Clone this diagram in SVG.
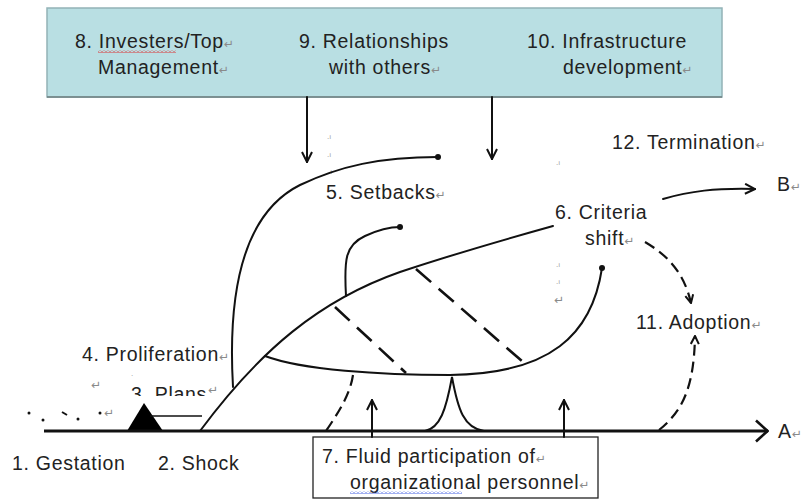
<svg xmlns="http://www.w3.org/2000/svg" width="803" height="499" viewBox="0 0 803 499">
  <style>
    .lbl { font-family: "Liberation Sans", Arial, sans-serif; font-size: 19.5px; fill: #222; letter-spacing: 0.7px; }
    .pm { font-family: "DejaVu Sans", sans-serif; font-size: 12px; fill: #8a8a8a; letter-spacing: 0; }
    .tiny { font-family: "DejaVu Sans", sans-serif; font-size: 7px; fill: #9a9a9a; }
    .ln { fill: none; stroke: #111; stroke-width: 2; stroke-linecap: round; }
    .dash { fill: none; stroke: #111; stroke-width: 2.6; stroke-dasharray: 20 10; }
    .dash2 { fill: none; stroke: #111; stroke-width: 2.2; stroke-dasharray: 11 6; }
  </style>
  <defs>
    <marker id="vee" viewBox="0 0 12 12" refX="11" refY="6" markerWidth="12" markerHeight="12" markerUnits="userSpaceOnUse" orient="auto">
      <path d="M1,1 L11,6 L1,11" fill="none" stroke="#111" stroke-width="2"/>
    </marker>
    <marker id="veeBig" viewBox="0 0 14 24" refX="13" refY="12" markerWidth="14" markerHeight="24" markerUnits="userSpaceOnUse" orient="auto">
      <path d="M1,1.5 L12.5,12 L1,22.5" fill="none" stroke="#111" stroke-width="2.6"/>
    </marker>
    <marker id="veeSmall" viewBox="0 0 10 10" refX="9" refY="5" markerWidth="10" markerHeight="10" markerUnits="userSpaceOnUse" orient="auto">
      <path d="M1,1 L9,5 L1,9" fill="none" stroke="#111" stroke-width="2"/>
    </marker>
    <pattern id="wavyRed" width="4" height="3" patternUnits="userSpaceOnUse">
      <path d="M0,2.5 L2,0.5 L4,2.5" fill="none" stroke="#e02020" stroke-width="0.9"/>
    </pattern>
    <pattern id="wavyBlue" width="4" height="3" patternUnits="userSpaceOnUse">
      <path d="M0,2.5 L2,0.5 L4,2.5" fill="none" stroke="#3050e0" stroke-width="0.9"/>
    </pattern>
    <clipPath id="plansClip">
      <rect x="120" y="370" width="110" height="26"/>
    </clipPath>
  </defs>

  <rect width="803" height="499" fill="#fff"/>

  <!-- influence panel across the top -->
  <g id="influences">
    <rect x="47" y="8" width="675" height="89" fill="#b9dfe3" stroke="#93b3b7" stroke-width="1.5"/>
    <line x1="47" y1="97" x2="722" y2="97" stroke="#6f7f81" stroke-width="1.5"/>
    <g id="n8">
      <text class="lbl" x="75" y="48">8. Investers/Top<tspan class="pm">↵</tspan></text>
      <rect x="98" y="50" width="78" height="3" fill="url(#wavyRed)"/>
      <text class="lbl" x="98" y="74">Management<tspan class="pm">↵</tspan></text>
    </g>
    <g id="n9">
      <text class="lbl" x="299" y="48">9. Relationships</text>
      <text class="lbl" x="329" y="74">with others<tspan class="pm">↵</tspan></text>
    </g>
    <g id="n10">
      <text class="lbl" x="527" y="48">10. Infrastructure</text>
      <text class="lbl" x="563" y="74">development<tspan class="pm">↵</tspan></text>
    </g>
  </g>

  <!-- stage labels -->
  <g id="n1"><text class="lbl" x="12" y="470">1. Gestation</text></g>
  <g id="n2"><text class="lbl" x="158" y="470">2. Shock</text></g>
  <g id="n3">
    <text class="lbl" x="131" y="401" clip-path="url(#plansClip)">3. Plans</text>
    <text class="pm" x="208" y="394">↵</text>
  </g>
  <g id="n4">
    <text class="lbl" x="82" y="361">4. Proliferation<tspan class="pm">↵</tspan></text>
    <text class="pm" x="91" y="389">↵</text>
  </g>
  <g id="n5"><text class="lbl" x="326" y="199">5. Setbacks<tspan class="pm">↵</tspan></text></g>
  <g id="n6">
    <text class="lbl" x="555" y="219">6. Criteria</text>
    <text class="lbl" x="585" y="245">shift<tspan class="pm">↵</tspan></text>
  </g>
  <g id="n7">
    <rect x="313" y="437" width="285" height="61" fill="#fff" stroke="#222" stroke-width="1.3"/>
    <text class="lbl" x="322" y="463">7. Fluid participation of<tspan class="pm">↵</tspan></text>
    <text class="lbl" x="350" y="489">organizational personnel<tspan class="pm">↵</tspan></text>
    <rect x="350" y="491" width="112" height="3" fill="url(#wavyBlue)"/>
  </g>
  <g id="n11"><text class="lbl" x="636" y="329">11. Adoption<tspan class="pm">↵</tspan></text></g>
  <g id="n12"><text class="lbl" x="612" y="149">12. Termination<tspan class="pm">↵</tspan></text></g>
  <g id="nA"><text class="lbl" x="778" y="438">A<tspan class="pm">↵</tspan></text></g>
  <g id="nB"><text class="lbl" x="777" y="191">B<tspan class="pm">↵</tspan></text></g>

  <!-- scattered paragraph marks -->
  <g id="marks">
    <text class="tiny" x="327" y="139">.ı</text>
    <text class="tiny" x="327" y="157">.ı</text>
    <text class="tiny" x="328" y="174">.ı</text>
    <text class="tiny" x="556" y="165">.ı</text>
    <text class="tiny" x="556" y="267">.ı</text>
    <text class="tiny" x="556" y="284">.ı</text>
    <text class="pm" x="554" y="304">↵</text>
    <text class="tiny" x="131" y="376">.</text>
  </g>

  <!-- gestation dots and the plans marker -->
  <g id="gestation">
    <circle cx="29" cy="413" r="1.5" fill="#111"/>
    <circle cx="43" cy="420" r="1.5" fill="#111"/>
    <path d="M62,412 L67,415" stroke="#111" stroke-width="2"/>
    <circle cx="78" cy="419" r="1.5" fill="#111"/>
    <circle cx="100" cy="413" r="1.5" fill="#111"/>
    <text class="pm" x="104" y="417">↵</text>
    <polygon points="127,431 144,403 163,431" fill="#000"/>
    <line x1="150" y1="416" x2="202" y2="416" stroke="#111" stroke-width="1.6"/>
  </g>

  <!-- connectors -->
  <g id="connectors">
    <!-- time axis -->
    <line x1="44" y1="431" x2="768" y2="431" stroke="#111" stroke-width="3" marker-end="url(#veeBig)"/>
    <!-- influences pressing down -->
    <line x1="307" y1="97" x2="307" y2="162" class="ln" marker-end="url(#vee)"/>
    <line x1="492" y1="97" x2="492" y2="159" class="ln" marker-end="url(#vee)"/>
    <!-- participation pushing up -->
    <line x1="372" y1="437" x2="372" y2="400" class="ln" marker-end="url(#vee)"/>
    <line x1="564" y1="437" x2="564" y2="400" class="ln" marker-end="url(#vee)"/>
    <!-- shock rising into criteria shift -->
    <path class="ln" d="M200,431 C260,350 320,300 400,272 C460,252 510,238 553,226"/>
    <!-- setbacks loop -->
    <path class="ln" d="M233,387 C228,300 240,215 300,185 C340,166 380,157 438,157"/>
    <circle cx="438" cy="157" r="3" fill="#111"/>
    <!-- small setback hook -->
    <path class="ln" d="M346,296 C344,260 345,245 365,236 C380,229 390,227 400,227"/>
    <circle cx="400" cy="227" r="3" fill="#111"/>
    <!-- proliferation branch -->
    <path class="ln" d="M265,356 C302,370 380,375 450,375 C550,374 592,335 602,268"/>
    <circle cx="602" cy="268" r="3" fill="#111"/>
    <!-- participation spike -->
    <path class="ln" d="M425,431 C440,428 446,410 452,377 C458,410 464,428 484,431"/>
    <!-- dashed cross links -->
    <line class="dash" x1="335" y1="307" x2="406" y2="373"/>
    <line class="dash" x1="416" y1="269" x2="523" y2="362"/>
    <path class="dash2" d="M353,375 C350,395 338,413 326,431"/>
    <!-- criteria shift toward adoption -->
    <path class="dash2" d="M645,242 C667,255 684,272 691,303" marker-end="url(#veeSmall)"/>
    <!-- axis toward adoption -->
    <path class="dash2" d="M659,430 C684,410 694,385 695,336" marker-end="url(#veeSmall)"/>
    <!-- termination -->
    <path class="ln" d="M663,199 C690,191 715,188 755,189" marker-end="url(#vee)"/>
  </g>
</svg>
